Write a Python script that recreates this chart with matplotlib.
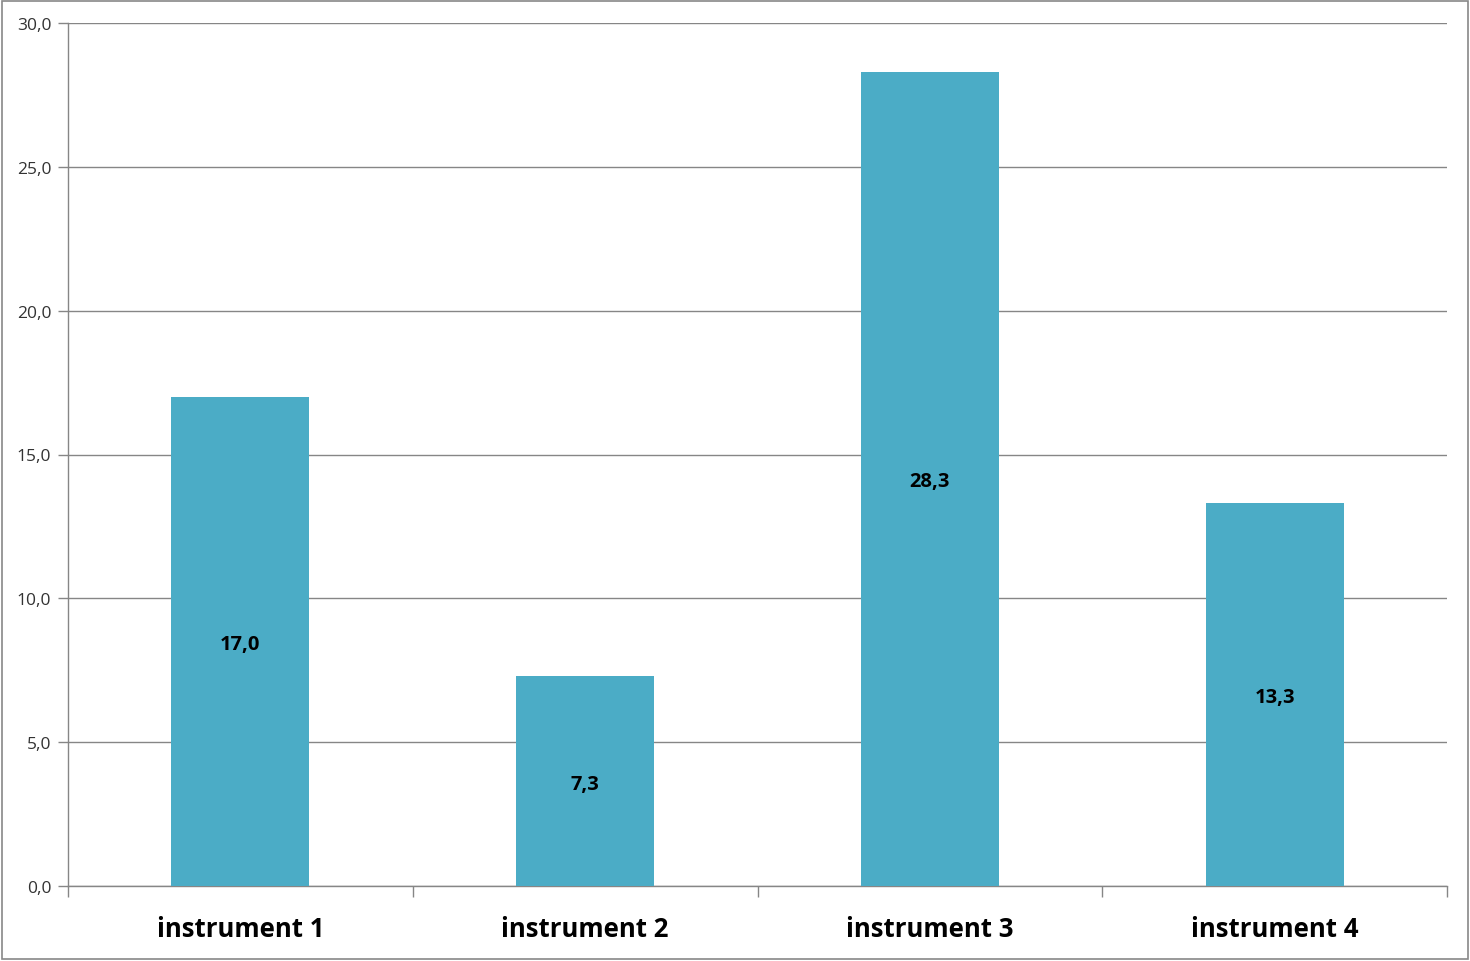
import matplotlib
matplotlib.use("Agg")
import matplotlib.pyplot as plt
from matplotlib.patches import Rectangle
from matplotlib.ticker import MultipleLocator, FuncFormatter

categories = ["instrument 1", "instrument 2", "instrument 3", "instrument 4"]
values = [17.0, 7.3, 28.3, 13.3]

bar_color = "#4BACC6"
axis_color = "#868686"

plt.rcParams["font.family"] = ["Open Sans", "DejaVu Sans"]

fig = plt.figure(figsize=(14.7, 9.62), dpi=100)
ax = fig.add_axes([68 / 1470, 1 - 887 / 962, (1447 - 68) / 1470, (887 - 24) / 962])

x = list(range(len(categories)))
bars = ax.bar(x, values, width=0.4, color=bar_color, zorder=3)

for xi, v in zip(x, values):
    ax.text(xi, v / 2, f"{v:.1f}".replace(".", ","), ha="center",
            va="center_baseline", fontsize=14.5, fontweight="bold",
            color="black", zorder=4)

ax.set_xlim(-0.5, len(categories) - 0.5)
ax.set_ylim(0, 30)
ax.yaxis.set_major_locator(MultipleLocator(5))
ax.yaxis.set_major_formatter(FuncFormatter(lambda v, p: f"{v:.1f}".replace(".", ",")))
ax.grid(axis="y", color=axis_color, linewidth=1.0, zorder=0)

# category ticks sit at the boundaries between categories
ax.set_xticks([i - 0.5 for i in range(len(categories) + 1)])
ax.set_xticklabels([])
ax.set_xticks(x, minor=True)
ax.set_xticklabels(categories, minor=True, fontsize=18.5, fontweight="bold")
ax.tick_params(axis="x", which="minor", length=0, pad=21)
ax.tick_params(axis="x", which="major", length=8, color=axis_color, width=1)
ax.tick_params(axis="y", length=7, color=axis_color, width=1, labelsize=12.5,
               pad=5, labelcolor="#333333")

for s in ("top", "right"):
    ax.spines[s].set_visible(False)
for s in ("left", "bottom"):
    ax.spines[s].set_color(axis_color)
    ax.spines[s].set_linewidth(1.0)

fig.patches.append(Rectangle((2 / 1470, 2 / 962), 1466 / 1470, 958 / 962,
                             transform=fig.transFigure, fill=False,
                             edgecolor="#888888", linewidth=1.2))

fig.savefig("out.png", dpi=100)
